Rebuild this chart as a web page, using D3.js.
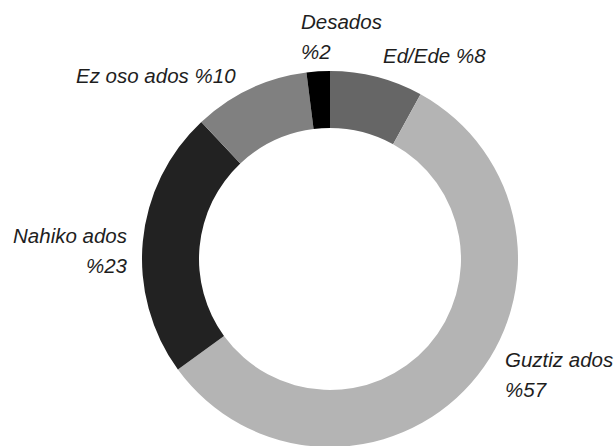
<!DOCTYPE html>
<html><head><meta charset="utf-8">
<script src="https://cdn.jsdelivr.net/npm/d3@7"></script>
<style>body{margin:0;background:#fff}svg{display:block}</style>
</head><body>
<script>
const categories = ["Ed/Ede", "Guztiz ados", "Nahiko ados", "Ez oso ados", "Desados"];
const values = [8, 57, 23, 10, 2];
const colors = ["#666666", "#b4b4b4", "#222222", "#808080", "#000000"];
const labelLines = [["Ed/Ede %8"], ["Guztiz ados", "%57"], ["Nahiko ados", "%23"], ["Ez oso ados %10"], ["Desados", "%2"]];

const W = 616, H = 446;
const cx = 330, cy = 259, rOuter = 188, rInner = 131;
const svg = d3.select("body").append("svg").attr("width", W).attr("height", H);
const data = categories.map((c, i) => ({cat: c, value: values[i], color: colors[i], lines: labelLines[i]}));
const pie = d3.pie().value(d => d.value).sort(null);
const arc = d3.arc().innerRadius(rInner).outerRadius(rOuter);
const g = svg.append("g").attr("transform", `translate(${cx},${cy})`);
g.selectAll("path").data(pie(data)).join("path").attr("d", arc).attr("fill", d => d.data.color);

const labelPos = {
  "Ed/Ede": {x: 383, y: 63, anchor: "start"},
  "Guztiz ados": {x: 505, y: 367, anchor: "start"},
  "Nahiko ados": {x: 127, y: 243, anchor: "end"},
  "Ez oso ados": {x: 76, y: 83, anchor: "start"},
  "Desados": {x: 301, y: 29, anchor: "start"}
};
const lineH = 30;
data.forEach(d => {
  const p = labelPos[d.cat];
  const t = svg.append("text").attr("x", p.x).attr("y", p.y)
    .attr("text-anchor", p.anchor)
    .attr("font-family", "'Liberation Sans', Arial, Helvetica, sans-serif")
    .attr("font-style", "italic").attr("font-size", 20.5).attr("fill", "#1e1e1e");
  d.lines.forEach((l, i) => t.append("tspan").attr("x", p.x).attr("dy", i === 0 ? 0 : lineH).text(l));
});
</script>
</body></html>
